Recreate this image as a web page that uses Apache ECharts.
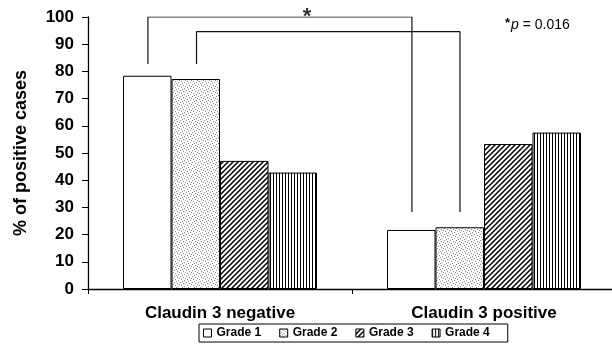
<!DOCTYPE html>
<html>
<head>
<meta charset="utf-8">
<script src="https://cdn.jsdelivr.net/npm/echarts@6/dist/echarts.min.js"></script>
<style>
  html, body { margin: 0; padding: 0; background: #fff; overflow: hidden; }
  /* plot area runs slightly past the right edge of the window, as in the figure */
  #chart { width: 616px; height: 355px; }
</style>
</head>
<body>
<div id="chart"></div>
<script>
// data
var categories = ['Claudin 3 negative', 'Claudin 3 positive'];
var gradeNames = ['Grade 1', 'Grade 2', 'Grade 3', 'Grade 4'];
var grade1 = [78.4, 21.7];
var grade2 = [77.2, 22.7];
var grade3 = [47.1, 53.3];
var grade4 = [42.8, 57.5];
var yTicks = [0, 100, 10]; // min, max, step

// significance brackets, in (group position 0..2, %) units
var bracketOuter = [[0.227, 82.7], [0.227, 100], [1.227, 100], [1.227, 28.3]];
var bracketInner = [[0.411, 82.7], [0.411, 94.6], [1.409, 94.6], [1.409, 28.3]];
var starPos = [[0.83, 100]];

var FONT = '"Liberation Sans", Arial, sans-serif';

function pattern(w, h, draw) {
  var c = document.createElement('canvas');
  c.width = w; c.height = h;
  var ctx = c.getContext('2d');
  ctx.fillStyle = '#fff';
  ctx.fillRect(0, 0, w, h);
  draw(ctx);
  return { image: c, repeat: 'repeat' };
}

// stipple dots
var dots = pattern(6, 6, function (ctx) {
  ctx.fillStyle = '#8a8a8a';
  [[0, 0], [3, 1], [1, 3], [4, 4], [5, 2], [2, 5]].forEach(function (p) {
    ctx.fillRect(p[0], p[1], 1, 1);
  });
});
// diagonal hatching
var diag = pattern(5, 5, function (ctx) {
  ctx.strokeStyle = '#000';
  ctx.lineWidth = 1.5;
  ctx.beginPath();
  ctx.moveTo(-1, 6); ctx.lineTo(6, -1);
  ctx.moveTo(-1, 1); ctx.lineTo(1, -1);
  ctx.moveTo(4, 6); ctx.lineTo(6, 4);
  ctx.stroke();
});
// vertical lines
var vert = pattern(3, 4, function (ctx) {
  ctx.fillStyle = '#000';
  ctx.fillRect(0, 0, 1, 4);
});

var fills = ['#ffffff', dots, diag, vert];
var values = [grade1, grade2, grade3, grade4];

var chart = echarts.init(document.getElementById('chart'));

var series = values.map(function (v, i) {
  return {
    name: gradeNames[i],
    type: 'bar',
    data: v,
    barWidth: 48.5,
    barGap: '0%',
    itemStyle: { color: fills[i], borderColor: '#000', borderWidth: 1 },
    silent: true
  };
});

[bracketOuter, bracketInner].forEach(function (b) {
  series.push({
    type: 'line',
    xAxisIndex: 1,
    data: b,
    symbol: 'none',
    silent: true,
    lineStyle: { color: '#111', width: 1.2 },
    z: 5
  });
});

series.push({
  type: 'scatter',
  xAxisIndex: 1,
  data: starPos,
  symbolSize: 0,
  silent: true,
  label: {
    show: true,
    position: 'top',
    distance: -11,
    formatter: '*',
    fontSize: 22,
    fontWeight: 'bold',
    fontFamily: FONT,
    color: '#000'
  }
});

chart.setOption({
  animation: false,
  backgroundColor: '#fff',
  title: {
    text: '{s|*}{i|p} = 0.016',
    left: 500,
    top: 12,
    textStyle: {
      fontSize: 14,
      fontWeight: 'normal',
      fontFamily: FONT,
      color: '#000',
      rich: {
        s: { fontSize: 13, fontWeight: 'bold', verticalAlign: 'top', padding: [0, 1, 4, 0] },
        i: { fontSize: 14, fontStyle: 'italic', fontFamily: FONT }
      }
    }
  },
  legend: {
    data: gradeNames,
    left: 199,
    top: 324,
    itemWidth: 8,
    itemHeight: 8,
    itemGap: 18,
    padding: [3, 18, 3, 4],
    borderColor: '#000',
    borderWidth: 1,
    icon: 'rect',
    itemStyle: { borderColor: '#000', borderWidth: 1 },
    textStyle: { fontSize: 12, fontWeight: 'bold', fontFamily: FONT, color: '#000' },
    selectedMode: false
  },
  grid: { left: 88, right: 0, top: 17, bottom: 66, containLabel: false },
  xAxis: [{
    type: 'category',
    data: categories,
    axisLine: { lineStyle: { color: '#000', width: 1.3 } },
    axisTick: { show: true, length: 5, lineStyle: { color: '#000' } },
    axisLabel: { fontSize: 17, fontWeight: 'bold', fontFamily: FONT, color: '#000', margin: 16 }
  }, {
    type: 'value',
    min: 0,
    max: 2,
    show: false
  }],
  yAxis: {
    type: 'value',
    min: yTicks[0],
    max: yTicks[1],
    interval: yTicks[2],
    name: '% of positive cases',
    nameLocation: 'middle',
    nameGap: 58,
    nameTextStyle: { fontSize: 18, fontWeight: 'bold', fontFamily: FONT, color: '#000' },
    axisLine: { show: true, lineStyle: { color: '#000', width: 1.3 } },
    axisTick: { show: true, length: 6, lineStyle: { color: '#000' } },
    axisLabel: { fontSize: 17, fontWeight: 'bold', fontFamily: FONT, color: '#000', margin: 14 },
    splitLine: { show: false }
  },
  series: series
});
</script>
</body>
</html>
